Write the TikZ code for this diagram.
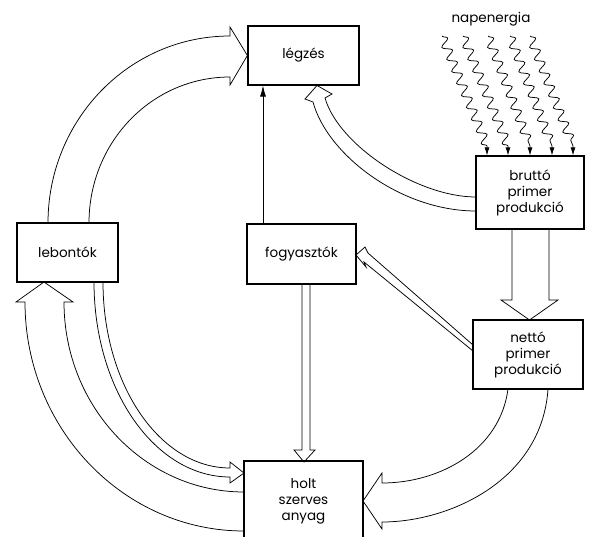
\documentclass[tikz,border=0pt]{standalone}
\usepackage{fontspec}
\setmainfont{Poppins}
\usetikzlibrary{arrows.meta,decorations.pathmorphing}
\begin{document}
\begin{tikzpicture}[x=1pt,y=-1pt,
  box/.style={draw, line width=1.2pt, align=center, inner sep=0pt,
    font=\fontsize{13.5}{16}\selectfont},
  flow/.style={line width=0.75pt, line join=miter},
  thinarrow/.style={line width=0.7pt, -{Latex[length=11pt,width=6pt]}},
  ray/.style={line width=0.75pt, -{Latex[length=8pt,width=5pt]}}
]
\fill[white] (0,0) rectangle (589,537);
\clip (0,0) rectangle (589,537);

% boxes
\node[box, minimum width=111pt, minimum height=59pt] (legzes) at (303.5,55.5) {légzés};
\node[box, minimum width=101pt, minimum height=59pt] (lebontok) at (67.5,252.5) {lebontók};
\node[box, minimum width=109pt, minimum height=60pt] (fogy) at (301.5,254) {fogyasztók};
\node[box, minimum width=108pt, minimum height=73pt] (brutto) at (530,192.5) {bruttó\\primer\\produkció};
\node[box, minimum width=110pt, minimum height=69pt] (netto) at (528,354.5) {nettó\\primer\\produkció};
\node[box, minimum width=119pt, minimum height=80pt] (holt) at (303.5,501) {holt\\szerves\\anyag};
\node[font=\fontsize{13.5}{16}\selectfont] (nap) at (491,19) {napenergia};

% sunlight rays
\foreach \sx/\ex in {442/487, 463/508, 488/530, 510/552, 530/573} {
  \draw[ray] decorate[decoration={snake, amplitude=4.5pt, segment length=13pt}]
    {(\sx,36) -- (\ex,146)} -- (brutto.north -| \ex,0);
}

% lebontok -> legzes
\draw[flow] (89,223) .. controls (89,142) and (152,77) .. (230,77) -- (230,85)
  -- (legzes.west) -- (230,27) -- (230,36) .. controls (129,36) and (48,120) .. (48,223);

% fogyasztok -> legzes
\draw[thinarrow] (fogy.north -| 263,0) -- (legzes.south -| 263,0);

% brutto -> legzes
\draw[flow] (476,211) .. controls (400,211) and (327,154) .. (313,102) -- (305,99)
  -- (317,85.5) -- (332,94) -- (325,98) .. controls (339,146) and (418,197) .. (476,197);

% brutto -> netto
\draw[flow] (512,229) -- (512,300) -- (501,300) -- (529.5,320) -- (558,300) -- (549,300) -- (549,229);

% netto -> fogyasztok
\draw[flow] (473,345) -- (368,253) -- (365,247) -- (356,255) -- (366,267) -- (364,262) -- (473,351);

% fogyasztok -> holt
\draw[flow] (302,284) -- (302,450) -- (294,450) -- (304,462) -- (315,450) -- (310,450) -- (310,284);

% netto -> holt
\draw[flow] (508,389) .. controls (500,450) and (440,483) .. (382,483) -- (382,473)
  -- (363,501) -- (382,529) -- (382,522) .. controls (450,522) and (542,480) .. (548,389);

% lebontok -> holt
\draw[flow] (94,282) .. controls (94,390) and (155,477) .. (230,477) -- (230,483)
  -- (244,473) -- (230,462) -- (230,468) .. controls (160,468) and (103,385) .. (103,282);

% holt -> lebontok
\draw[flow] (244,492) .. controls (145,492) and (64,407) .. (64,302) -- (73,302)
  -- (44,282) -- (16,302) -- (25,302) .. controls (25,428) and (123,531) .. (244,531);
\end{tikzpicture}
\end{document}
